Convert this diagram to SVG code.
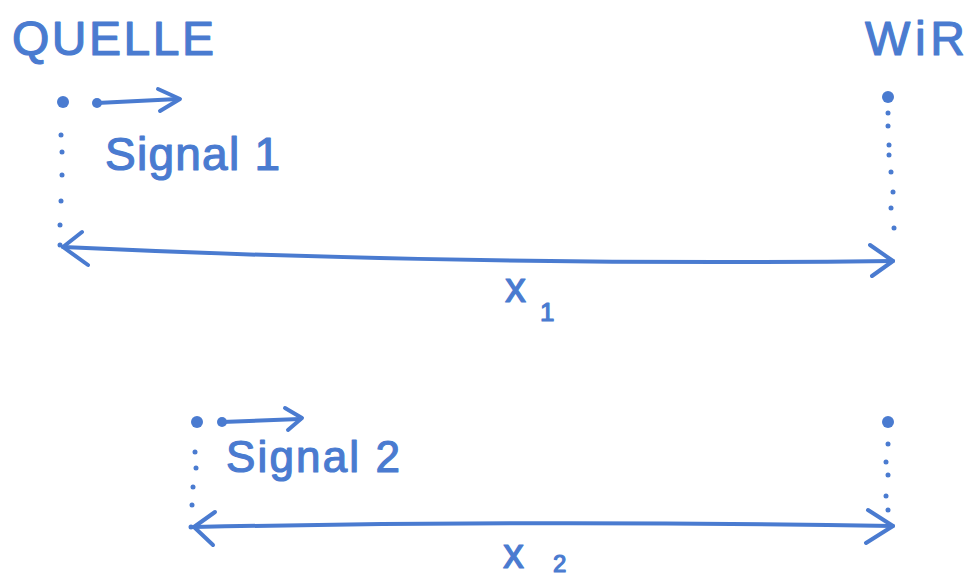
<svg xmlns="http://www.w3.org/2000/svg" width="973" height="580" viewBox="0 0 973 580">
<style>
.t{font-family:"Liberation Sans","DejaVu Sans",sans-serif;fill:#4a7bd0;stroke:#4a7bd0;stroke-width:1.2;stroke-linejoin:round;}
.ln{fill:none;stroke:#4a7bd0;stroke-width:4;stroke-linecap:round;stroke-linejoin:round;}
.dot{fill:#4a7bd0;}
</style>
<rect width="973" height="580" fill="#ffffff"/>
<g id="quelle">
<text class="t" x="12" y="55" font-size="48" textLength="202">QUELLE</text>
<circle class="dot" cx="63" cy="102" r="6"/>
</g>
<g id="wir">
<text class="t" x="865" y="55" font-size="48" textLength="100">WiR</text>
<circle class="dot" cx="888" cy="97" r="6"/>
</g>
<g id="signal1">
<text class="t" x="105" y="170" font-size="46" textLength="175">Signal 1</text>
</g>
<g id="quelle2">
<circle class="dot" cx="197" cy="422" r="6"/>
</g>
<g id="wir2">
<circle class="dot" cx="888" cy="422" r="6"/>
</g>
<g id="signal2">
<text class="t" x="226" y="472" font-size="44" textLength="174">Signal 2</text>
</g>
<g id="label-x1">
<text class="t" x="505" y="302" font-size="42">x</text>
<text class="t" x="540" y="321" font-size="26">1</text>
</g>
<g id="label-x2">
<text class="t" x="503" y="568" font-size="42">x</text>
<text class="t" x="553" y="572" font-size="24">2</text>
</g>
<g id="connectors">
<!-- signal 1 arrow -->
<circle class="dot" cx="97" cy="103" r="5"/>
<path class="ln" d="M97,103 L178,99"/>
<path class="ln" d="M158,89 L180,99 L160,111"/>
<!-- signal 2 arrow -->
<circle class="dot" cx="222" cy="422" r="5"/>
<path class="ln" d="M222,422 L300,419"/>
<path class="ln" d="M285,408 L302,418 L288,430"/>
<!-- x1 double arrow -->
<path class="ln" d="M63,247 Q470,266 893,261"/>
<path class="ln" d="M82,232 L63,247 L88,265"/>
<path class="ln" d="M870,245 L893,261 L872,276"/>
<!-- x2 double arrow -->
<path class="ln" d="M194,527 Q540,520 893,526"/>
<path class="ln" d="M215,512 L194,527 L213,545"/>
<path class="ln" d="M868,510 L893,526 L866,543"/>
<!-- dotted verticals -->
<g class="dot">
<circle cx="61" cy="135" r="2.5"/><circle cx="62" cy="152" r="2.5"/><circle cx="62" cy="175" r="2.5"/><circle cx="61" cy="201" r="2.5"/><circle cx="60" cy="225" r="2.5"/><circle cx="60" cy="245" r="2.5"/>
<circle cx="888" cy="113" r="2.5"/><circle cx="888" cy="126" r="2.5"/><circle cx="889" cy="145" r="2.5"/><circle cx="889" cy="155" r="2.5"/><circle cx="891" cy="172" r="2.5"/><circle cx="893" cy="192" r="2.5"/><circle cx="891" cy="208" r="2.5"/><circle cx="894" cy="228" r="2.5"/>
<circle cx="195" cy="452" r="2.5"/><circle cx="196" cy="468" r="2.5"/><circle cx="193" cy="487" r="2.5"/><circle cx="192" cy="505" r="2.5"/><circle cx="191" cy="527" r="2.5"/>
<circle cx="888" cy="444" r="2.5"/><circle cx="886" cy="462" r="2.5"/><circle cx="888" cy="475" r="2.5"/><circle cx="886" cy="496" r="2.5"/><circle cx="888" cy="510" r="2.5"/>
</g>
</g>
</svg>
